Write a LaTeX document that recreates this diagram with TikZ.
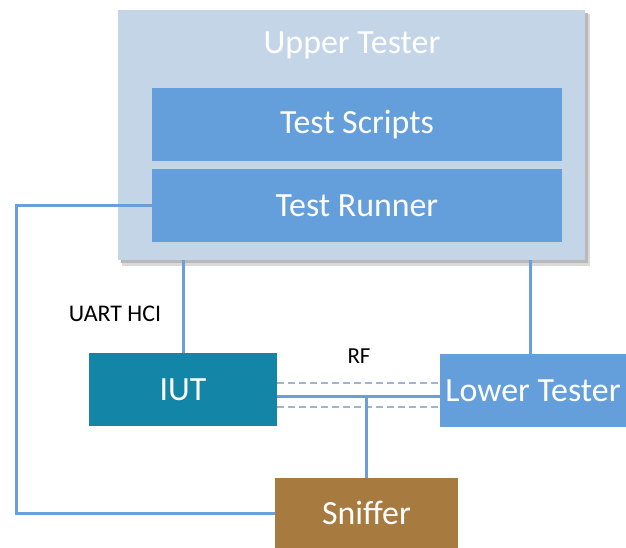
\documentclass[tikz,border=0pt]{standalone}
\usepackage{fontspec}
\setmainfont{Carlito}
\definecolor{utbg}{HTML}{C5D5E8}
\definecolor{boxblue}{HTML}{659FDB}
\definecolor{iutcol}{HTML}{1386A8}
\definecolor{sniffcol}{HTML}{A77A40}
\definecolor{linecol}{HTML}{6A9FDB}
\definecolor{dashcol}{HTML}{9DB5D3}
\begin{document}
\begin{tikzpicture}[x=1bp,y=-1bp,
  blk/.style={draw=none,inner sep=0,text=white,font=\fontsize{34}{37}\selectfont},
  wire/.style={draw=linecol,line width=3bp},
  rfdash/.style={draw=dashcol,line width=2bp,dash pattern=on 7bp off 4bp},
  lbl/.style={inner sep=0,text=black}]
\useasboundingbox (0,0) rectangle (626,548);
% shadow
\fill[gray!30] (122,14) rectangle (590,266);
\fill[gray!55] (121,13) rectangle (588,263);
\node[blk,fill=utbg,minimum width=467bp,minimum height=250bp] (UT) at (351.5,135) {};
\node[blk] (UTlabel) at (352,45) {Upper Tester};
\node[blk,fill=boxblue,minimum width=410bp,minimum height=73bp] (TS) at (357,124.5) {Test Scripts};
\node[blk,fill=boxblue,minimum width=410bp,minimum height=73bp] (TR) at (357,205.5) {Test Runner};
\node[blk,fill=iutcol,minimum width=188bp,minimum height=73bp] (IUT) at (183,389.5) {IUT};
\node[blk,fill=boxblue,minimum width=186bp,minimum height=73bp] (LT) at (533,390.5) {Lower Tester};
\node[blk,fill=sniffcol,minimum width=183bp,minimum height=70bp] (SN) at (366.5,513) {Sniffer};
\node[lbl,font=\fontsize{24}{28}\selectfont] (uart) at (115,314) {UART HCI};
\node[lbl,font=\fontsize{23}{26}\selectfont] (rf) at (359,356) {RF};
\coordinate (rfy) at (0,396);
\coordinate (ltup) at (530,0);
\coordinate (lc) at (16,0);
% wires
\draw[wire] (TR.west) -- (lc |- TR.west) -- (lc |- SN.west) -- (SN.west);
\draw[wire] (IUT.north) -- (IUT.north |- UT.south);
\draw[wire] (ltup |- LT.north) -- (ltup |- UT.south);
\draw[rfdash] (IUT.east |- 0,383) -- (LT.west |- 0,383);
\draw[rfdash] (IUT.east |- 0,407) -- (LT.west |- 0,407);
\draw[wire] (IUT.east |- rfy) -- (LT.west |- rfy);
\draw[wire] (SN.north) -- (SN.north |- rfy);
\end{tikzpicture}
\end{document}
